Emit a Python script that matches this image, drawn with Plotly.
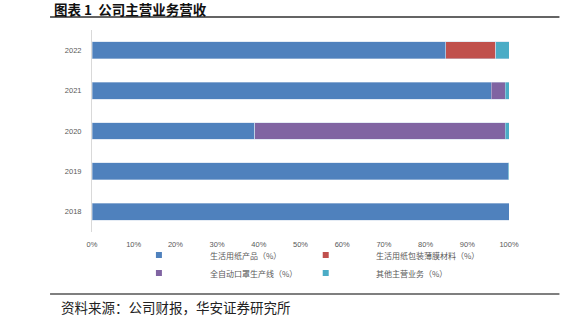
import plotly.graph_objects as go

# Revenue share by business line, per year (%)
years = ["2018", "2019", "2020", "2021", "2022"]
series_names = [
    "生活用纸产品（%）",
    "生活用纸包装薄膜材料（%）",
    "全自动口罩生产线（%）",
    "其他主营业务（%）",
]
tissue = [100.0, 99.8, 39.0, 95.7, 84.8]
film = [0.0, 0.0, 0.0, 0.0, 12.0]
mask_line = [0.0, 0.0, 60.1, 3.4, 0.0]
other = [0.0, 0.2, 0.9, 0.9, 3.2]
series_values = [tissue, film, mask_line, other]
colors = ["#4F81BD", "#C0504D", "#8064A2", "#4BACC6"]
x_ticks = [0, 10, 20, 30, 40, 50, 60, 70, 80, 90, 100]

W, H = 577, 324
ML, MR, MT, MB = 92, 67.5, 30, 92
PW, PH = W - ML - MR, H - MT - MB

fig = go.Figure()
for name, vals, col in zip(series_names, series_values, colors):
    fig.add_trace(go.Bar(
        y=years, x=vals, name=name, orientation="h",
        marker=dict(color=col, line=dict(color="rgba(200,215,235,0.8)", width=0.6)),
        width=0.42, showlegend=False,
    ))

fig.update_layout(
    barmode="stack",
    width=W, height=H,
    margin=dict(l=ML, r=MR, t=MT, b=MB),
    paper_bgcolor="white", plot_bgcolor="white",
    font=dict(family="Liberation Sans, Arial, sans-serif", color="#595959", size=8),
    xaxis=dict(
        range=[0, 100], tickvals=x_ticks, ticktext=[f"{v}%" for v in x_ticks],
        showgrid=False, zeroline=False, showline=False, ticks="",
        tickfont=dict(size=7.5, color="#595959"), ticklabelstandoff=6,
    ),
    yaxis=dict(
        categoryorder="array", categoryarray=years, range=[-0.5, 4.5],
        showgrid=False, zeroline=False, showline=True, linecolor="#D9D9D9", linewidth=1,
        ticks="", tickfont=dict(size=7.5, color="#595959"), ticklabelstandoff=8,
    ),
)


# helpers: page pixel -> paper coordinates (paper spans the plot area)
def px(x):
    return (x - ML) / PW


def py(y):
    return (H - MB - y) / PH


shapes = [
    # header rule and footer rule
    dict(type="line", xref="paper", yref="paper", x0=px(50), x1=px(560), y0=py(17), y1=py(17),
         line=dict(color="#303030", width=1.5)),
    dict(type="line", xref="paper", yref="paper", x0=px(50), x1=px(560), y0=py(294), y1=py(294),
         line=dict(color="#7F7F7F", width=1.8)),
]
annotations = [
    dict(text="<b>图表 1  公司主营业务营收</b>", xref="paper", yref="paper", x=px(52), y=py(9),
         xanchor="left", yanchor="middle", showarrow=False,
         font=dict(family="Noto Sans CJK SC", size=13.5, color="#111111")),
    dict(text="资料来源：公司财报，华安证券研究所", xref="paper", yref="paper", x=px(59), y=py(307),
         xanchor="left", yanchor="middle", showarrow=False,
         font=dict(family="Noto Sans CJK SC", size=13.5, color="#222222")),
]

# two-column legend below the axis
legend_pos = [(159, 208, 255), (326, 374, 255), (159, 208, 273), (326, 374, 273)]
for (mx, tx, ly), name, col in zip(legend_pos, series_names, colors):
    shapes.append(dict(type="rect", xref="paper", yref="paper",
                       x0=px(mx - 3), x1=px(mx + 3), y0=py(ly - 3), y1=py(ly + 3),
                       fillcolor=col, line=dict(width=0)))
    annotations.append(dict(text=name, xref="paper", yref="paper", x=px(tx), y=py(ly),
                            xanchor="left", yanchor="middle", showarrow=False,
                            font=dict(family="Noto Sans CJK SC", size=8, color="#595959")))

fig.update_layout(shapes=shapes, annotations=annotations)
fig.write_html("out.html")
